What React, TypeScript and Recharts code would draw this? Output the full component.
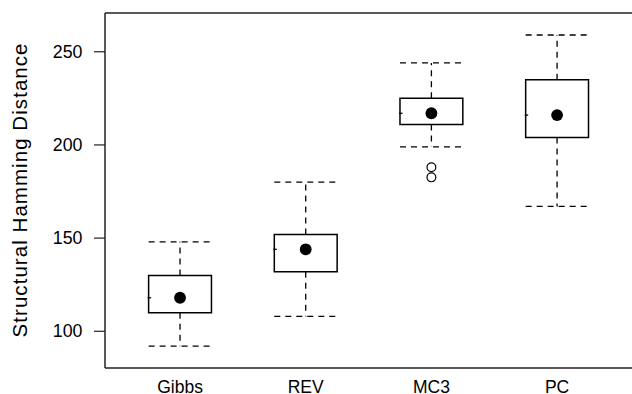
import {
  ComposedChart,
  XAxis,
  YAxis,
  Scatter,
  ReferenceArea,
  ReferenceLine,
} from "recharts";

// Box plot summary per method
const methods = ["Gibbs", "REV", "MC3", "PC"];
const lowerWhisker = [92, 108, 199, 167];
const q1 = [110, 132, 211, 204];
const median = [118, 144, 217, 216];
const q3 = [130, 152, 225, 235];
const upperWhisker = [148, 180, 244, 259];
const outlierMethod = [3, 3];
const outlierValues = [188, 182.6];
const yTicks = [100, 150, 200, 250];

const FONT = "'Liberation Sans', Arial, Helvetica, sans-serif";
const INK = "#000000";
const FRAME = "#222222";
const HALF = 0.25;
const X_MIN = 0.403;
const X_MAX = 4.596;
const Y_MIN = 80.3;
const Y_MAX = 270.8;

const medianPoints = methods.map((name, i) => ({ x: i + 1, y: median[i], name }));
const outlierPoints = outlierValues.map((v, i) => ({ x: outlierMethod[i], y: v }));

function YLabel({ viewBox }: any) {
  const cy = viewBox ? viewBox.y + viewBox.height / 2 : 190;
  const x0 = 26.7;
  return (
    <text
      x={x0}
      y={cy}
      transform={`rotate(-90, ${x0}, ${cy})`}
      textAnchor="middle"
      fontSize={20.5}
      fontFamily={FONT}
      fill={INK}
      textLength={294}
      lengthAdjust="spacing"
    >
      Structural Hamming Distance
    </text>
  );
}

// y tick labels sit a fixed gap left of the tick marks
function YTick(props: any) {
  const { y, payload } = props;
  return (
    <text
      x={82.5}
      y={y}
      textAnchor="end"
      dominantBaseline="central"
      fontSize={17.8}
      fontFamily={FONT}
      fill={INK}
    >
      {payload.value}
    </text>
  );
}

export default function App() {
  const dash = "6 5";
  return (
    <div style={{ position: "absolute", left: 0, top: 0, background: "#fff" }}>
      <ComposedChart
        width={632}
        height={394}
        margin={{ top: 13, right: 0, bottom: 0, left: 0 }}
      >
        <XAxis
          type="number"
          dataKey="x"
          domain={[X_MIN, X_MAX]}
          allowDataOverflow
          ticks={[1, 2, 3, 4]}
          interval={0}
          tickFormatter={(v: number) => methods[v - 1]}
          tickLine={false}
          tickSize={0}
          tickMargin={13}
          height={26}
          axisLine={{ stroke: FRAME, strokeWidth: 1.5 }}
          tick={{ fill: INK, fontSize: 17.5, fontFamily: FONT }}
        />
        <YAxis
          type="number"
          dataKey="y"
          domain={[Y_MIN, Y_MAX]}
          allowDataOverflow
          ticks={yTicks}
          interval={0}
          width={105}
          tickSize={11}
          axisLine={{ stroke: FRAME, strokeWidth: 1.5 }}
          tickLine={{ stroke: FRAME, strokeWidth: 1.2 }}
          tick={<YTick />}
          label={{ content: <YLabel /> }}
        />
        <ReferenceLine y={Y_MAX} stroke={FRAME} strokeWidth={1.5} ifOverflow="visible" />

        {methods.map((m, i) => (
          <ReferenceLine
            key={`wu-${m}`}
            segment={[
              { x: i + 1, y: q3[i] },
              { x: i + 1, y: upperWhisker[i] },
            ]}
            stroke={INK}
            strokeWidth={1.3}
            strokeDasharray={dash}
          />
        ))}
        {methods.map((m, i) => (
          <ReferenceLine
            key={`wl-${m}`}
            segment={[
              { x: i + 1, y: q1[i] },
              { x: i + 1, y: lowerWhisker[i] },
            ]}
            stroke={INK}
            strokeWidth={1.3}
            strokeDasharray={dash}
          />
        ))}
        {methods.map((m, i) => (
          <ReferenceLine
            key={`cu-${m}`}
            segment={[
              { x: i + 1 - HALF, y: upperWhisker[i] },
              { x: i + 1 + HALF, y: upperWhisker[i] },
            ]}
            stroke={INK}
            strokeWidth={1.3}
            strokeDasharray={dash}
          />
        ))}
        {methods.map((m, i) => (
          <ReferenceLine
            key={`cl-${m}`}
            segment={[
              { x: i + 1 - HALF, y: lowerWhisker[i] },
              { x: i + 1 + HALF, y: lowerWhisker[i] },
            ]}
            stroke={INK}
            strokeWidth={1.3}
            strokeDasharray={dash}
          />
        ))}
        {methods.map((m, i) => (
          <ReferenceArea
            key={`box-${m}`}
            x1={i + 1 - HALF}
            x2={i + 1 + HALF}
            y1={q1[i]}
            y2={q3[i]}
            fill="#ffffff"
            fillOpacity={1}
            stroke={INK}
            strokeWidth={1.5}
          />
        ))}
        {methods.map((m, i) => (
          <ReferenceLine
            key={`med-${m}`}
            segment={[
              { x: i + 1 - HALF - 0.008, y: median[i] },
              { x: i + 1 - HALF + 0.02, y: median[i] },
            ]}
            stroke={INK}
            strokeWidth={1.3}
          />
        ))}

        <Scatter
          data={medianPoints}
          dataKey="y"
          isAnimationActive={false}
          shape={(p: any) => <circle cx={p.cx} cy={p.cy} r={5.9} fill={INK} />}
        />
        <Scatter
          data={outlierPoints}
          dataKey="y"
          isAnimationActive={false}
          shape={(p: any) => (
            <circle cx={p.cx} cy={p.cy} r={4.4} fill="none" stroke={INK} strokeWidth={1.2} />
          )}
        />
      </ComposedChart>
    </div>
  );
}
